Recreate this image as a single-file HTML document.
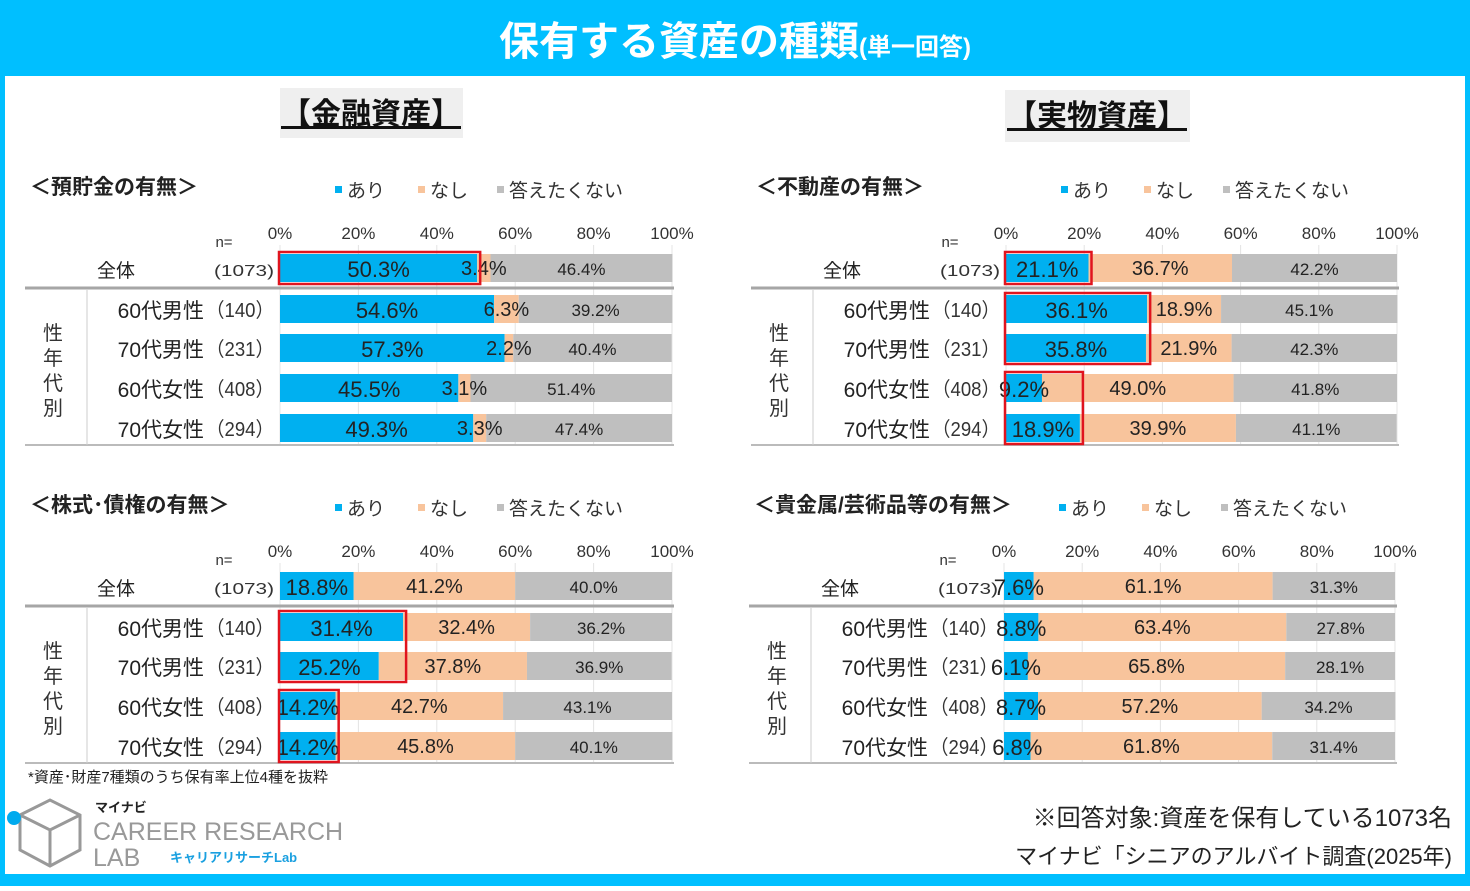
<!DOCTYPE html>
<html><head><meta charset="utf-8"><style>
body{margin:0;width:1470px;height:886px;overflow:hidden;background:#fff;font-family:"Liberation Sans","Noto Sans CJK JP",sans-serif}
svg text{font-family:"Liberation Sans","Noto Sans CJK JP",sans-serif}
</style></head><body>
<svg id="chart" width="1470" height="886" viewBox="0 0 1470 886" xmlns="http://www.w3.org/2000/svg">
<rect x="0" y="0" width="1470" height="886" fill="#00bfff"/>
<rect x="5" y="76" width="1460" height="798" fill="#fff"/>
<text x="735" y="55" text-anchor="middle" fill="#fff" font-size="40" font-weight="bold">保有する資産の種類<tspan font-size="24">(単一回答)</tspan></text>
<rect x="280" y="88" width="183" height="50" fill="#efefef"/>
<text x="371" y="124" text-anchor="middle" font-size="30" font-weight="bold" fill="#111" text-decoration="underline">【金融資産】</text>
<rect x="1005" y="90" width="185" height="52" fill="#efefef"/>
<text x="1097" y="126" text-anchor="middle" font-size="30" font-weight="bold" fill="#111" text-decoration="underline">【実物資産】</text>
<text x="28" y="782" font-size="15" fill="#222">*資産･財産7種類のうち保有率上位4種を抜粋</text>
<text x="1452" y="826" text-anchor="end" font-size="24" fill="#222">※回答対象:資産を保有している1073名</text>
<text x="1452" y="864" text-anchor="end" font-size="22" fill="#222">マイナビ「シニアのアルバイト調査(2025年)</text>
<g>
<path d="M20 815 L50 800 L80 815 L80 850 L50 866 L20 850 Z M20 815 L50 830 L80 815 M50 830 L50 866" fill="none" stroke="#999" stroke-width="3"/>
<circle cx="14" cy="818" r="7" fill="#00aaee"/>
<text x="95" y="812" font-size="13" font-weight="bold" fill="#222">マイナビ</text>
<text x="93" y="840" font-size="25" fill="#999">CAREER RESEARCH</text>
<text x="93" y="866" font-size="25" fill="#999">LAB</text>
<text x="170" y="862" font-size="13" font-weight="bold" fill="#1aa0e0">キャリアリサーチLab</text>
</g>
<g id="panels"></g>
</svg>
<script>
const categories=["全体","60代男性","70代男性","60代女性","70代女性"];
const sampleSizes=["(1073)","（140）","（231）","（408）","（294）"];
const tickLabels=["0%","20%","40%","60%","80%","100%"];
const tickValues=[0,20,40,60,80,100];
const savingsYes=[50.3,54.6,57.3,45.5,49.3];
const savingsNo=[3.4,6.3,2.2,3.1,3.3];
const savingsNA=[46.4,39.2,40.4,51.4,47.4];
const realEstateYes=[21.1,36.1,35.8,9.2,18.9];
const realEstateNo=[36.7,18.9,21.9,49.0,39.9];
const realEstateNA=[42.2,45.1,42.3,41.8,41.1];
const stocksYes=[18.8,31.4,25.2,14.2,14.2];
const stocksNo=[41.2,32.4,37.8,42.7,45.8];
const stocksNA=[40.0,36.2,36.9,43.1,40.1];
const metalsYes=[7.6,8.8,6.1,8.7,6.8];
const metalsNo=[61.1,63.4,65.8,57.2,61.8];
const metalsNA=[31.3,27.8,28.1,34.2,31.4];

const NS="http://www.w3.org/2000/svg";
const root=document.getElementById('panels');
function mk(tag,attrs,parent,txt){const e=document.createElementNS(NS,tag);for(const k in attrs)e.setAttribute(k,attrs[k]);if(txt!==undefined)e.textContent=txt;parent.appendChild(e);return e;}
const colors=["#00b0f0","#f8c49c","#bfbfbf"];
const panels=[
 {key:"savings",title:"＜預貯金の有無＞",yes:savingsYes,no:savingsNo,na:savingsNA,x0:280,x1:672,left:25,top:0,boxes:[[0,0]]},
 {key:"real-estate",title:"＜不動産の有無＞",yes:realEstateYes,no:realEstateNo,na:realEstateNA,x0:1006,x1:1397,left:751,top:0,boxes:[[0,0],[1,2],[3,4]]},
 {key:"stocks",title:"＜株式･債権の有無＞",yes:stocksYes,no:stocksNo,na:stocksNA,x0:280,x1:672,left:25,top:318,boxes:[[1,2],[3,4]]},
 {key:"precious-metals",title:"＜貴金属/芸術品等の有無＞",yes:metalsYes,no:metalsNo,na:metalsNA,x0:1004,x1:1395,left:749,top:318,boxes:[]}
];
const rowY=[268,309,348,388,428];
panels.forEach(p=>{
 const g=mk('g',{},root);
 
 
 const xs=v=>p.x0+(p.x1-p.x0)*v/100;
 const T=p.top;
 const t=mk('text',{x:p.left+5,y:194+T,'font-size':21,'font-weight':'bold',fill:'#222'},g,p.title);
 
 
 const lx=p.x0+55;
 [["あり",0,0],["なし",1,83],["答えたくない",2,162]].forEach(l=>{
  const lg=mk('g',{},g);
  
  
  mk('rect',{x:lx+l[2],y:186+T,width:7,height:7,fill:colors[l[1]]},lg);
  mk('text',{x:lx+l[2]+12,y:197+T,'font-size':19,fill:'#333'},lg,l[0]);
 });
 tickValues.forEach((v,i)=>{
  const gl=mk('line',{x1:xs(v),x2:xs(v),y1:245+T,y2:445+T,stroke:'#e4e4e4','stroke-width':1},g);
  
  
  const tl=mk('text',{x:xs(v),y:239+T,'text-anchor':'middle','font-size':17,fill:'#333'},g,tickLabels[i]);
  
  
 });
 mk('text',{x:p.x0-56,y:247+T,'text-anchor':'middle','font-size':15,fill:'#333'},g,'n=');
 const sep=mk('line',{x1:p.left,x2:p.x1+2,y1:288+T,y2:288+T,stroke:'#a6a6a6','stroke-width':3},g);
 
 
 mk('line',{x1:p.left,x2:p.x1+2,y1:445+T,y2:445+T,stroke:'#bbb','stroke-width':2},g);
 mk('line',{x1:p.left+62,x2:p.left+62,y1:290+T,y2:445+T,stroke:'#ccc','stroke-width':1},g);
 const vt=mk('text',{x:p.left+28,y:340+T,'text-anchor':'middle','font-size':20,fill:'#333'},g);
 
 
 ["性","年","代","別"].forEach((c,i)=>mk('tspan',{x:p.left+28,y:340+T+i*25},vt,c));
 const labels=[];
 categories.forEach((c,i)=>{
  const y=rowY[i]+T;
  const cl=mk('text',{x:i==0?p.x0-164:p.x0-76,y:y+9,'text-anchor':i==0?'middle':'end','font-size':i==0?19:21,fill:'#222'},g,c);
  
  
  const nl=mk('text',{x:p.x0-6,y:y+8,'text-anchor':'end','font-size':i==0?16:20,fill:'#333','textLength':i==0?60:68,'lengthAdjust':'spacingAndGlyphs'},g,sampleSizes[i]);
  
  
  const vals=[p.yes[i],p.no[i],p.na[i]];
  let acc=0;
  vals.forEach((v,k)=>{
   const b=mk('rect',{x:xs(acc),y:y-14,width:xs(acc+v)-xs(acc),height:28,fill:colors[k]},g);
   
   
   labels.push([(xs(acc)+xs(acc+v))/2,y+(k==0?9:7),k,v]);
   acc+=v;
  });
 });
 labels.forEach(L=>{
  const lab=mk('text',{x:L[0],y:L[1],'text-anchor':'middle','font-size':L[2]==0?22:(L[2]==1?20:17),fill:'#222'},g,L[3].toFixed(1)+'%');
  
  
 });
 p.boxes.forEach(bx=>{
  let m=0;for(let i=bx[0];i<=bx[1];i++)m=Math.max(m,p.yes[i]);
  const y0=rowY[bx[0]]+T-16,y1=rowY[bx[1]]+T+16;
  const r=mk('rect',{x:p.x0-1,y:y0,width:xs(m)-p.x0+4,height:y1-y0,fill:'none',stroke:'#e0141e','stroke-width':2.5},g);
  
  
 });
});
</script>
</body></html>
